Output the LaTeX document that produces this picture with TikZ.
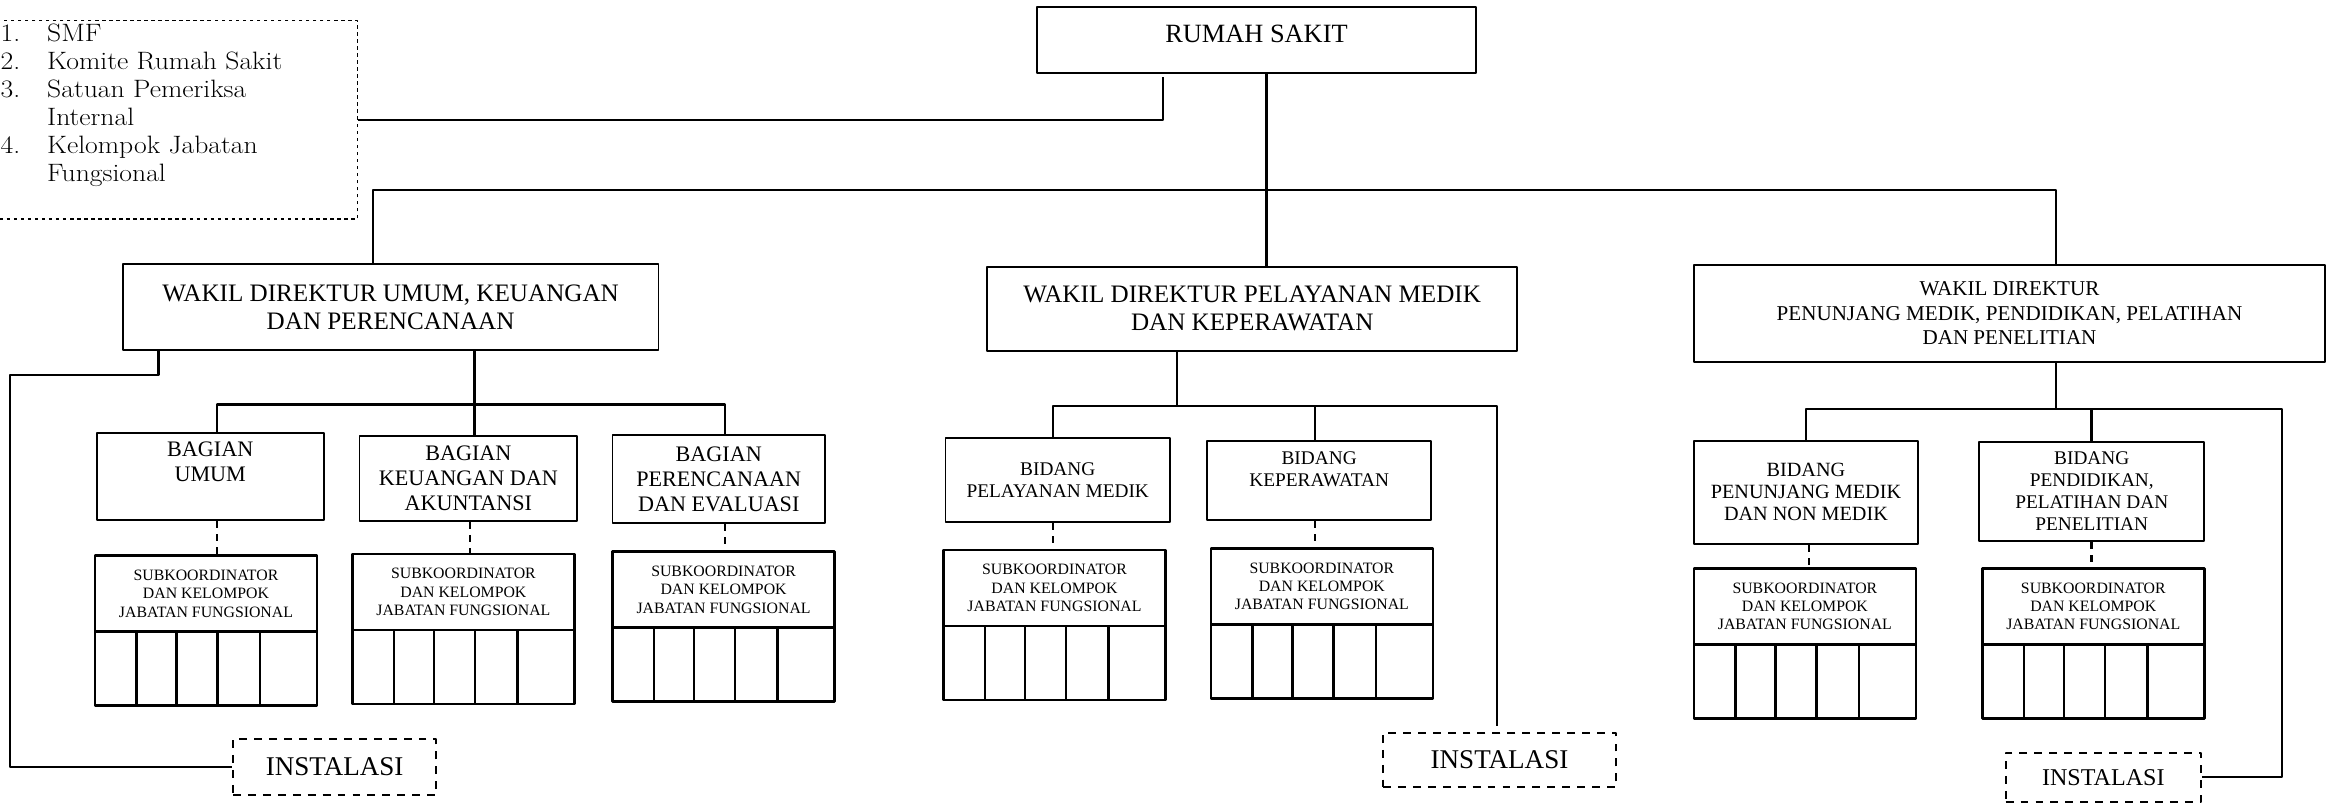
\documentclass[tikz,border=0pt]{standalone}
\usepackage{fontspec}
\newfontfamily\tnr{Liberation Serif}
\newfontfamily\legfont[FakeStretch=1.1]{Latin Modern Roman}
\usetikzlibrary{calc}

\begin{document}
\begin{tikzpicture}[line join=round,
  box/.style={draw, line width=1.1pt, align=center, inner sep=0pt},
  wdbox/.style={box, font=\tnr\fontsize{14.3}{16.1}\selectfont},
  bagbox/.style={box, font=\tnr\fontsize{12.6}{14.2}\selectfont},
  bidbox/.style={box, font=\tnr\fontsize{11}{12.5}\selectfont},
  subbox/.style={draw, line width=1.4pt, align=center, inner sep=0pt, outer sep=0pt,
    minimum width=4.44cm, minimum height=1.52cm, font=\tnr\fontsize{9}{10.5}\selectfont},
  cellbox/.style={draw, line width=1.4pt, inner sep=0pt, outer sep=0pt,
    minimum width=4.44cm, minimum height=1.48cm},
  instbox/.style={draw, dash pattern=on 4.5pt off 4pt, line width=1.1pt, inner sep=0pt,
    font=\tnr\fontsize{15.4}{17}\selectfont},
  conn/.style={line width=1.2pt},
  dashline/.style={line width=1.2pt, dash pattern=on 4pt off 3.5pt}]

  \useasboundingbox (0,0) rectangle (46.68,-16.06);

  % Top
  \node[box, minimum width=8.78cm, minimum height=1.32cm, text depth=6.8pt,
    font=\tnr\fontsize{15}{17}\selectfont] (rs) at (25.13,-0.80) {RUMAH SAKIT};
  \node[draw, dash pattern=on 2pt off 2pt, line width=0.75pt, anchor=north west,
    inner xsep=0.3cm, inner ysep=0pt, text width=6.84cm, minimum height=3.966cm,
    font=\legfont\fontsize{14.3}{16}\selectfont] (legend) at (-0.30,-0.40) {%
    \begin{tabular}{@{}p{26.5pt}@{}l@{}}
      1. & SMF\\
      2. & Komite Rumah Sakit\\
      3. & Satuan Pemeriksa\\
         & Internal\\
      4. & Kelompok Jabatan\\
         & Fungsional\\
         & \\
    \end{tabular}};

  % Wakil direktur
  \node[wdbox, minimum width=10.714cm, minimum height=1.72cm] (wd1) at (7.813,-6.14)
    {WAKIL DIREKTUR UMUM, KEUANGAN\\DAN PERENCANAAN};
  \node[wdbox, minimum width=10.608cm, minimum height=1.68cm] (wd2) at (25.044,-6.174)
    {WAKIL DIREKTUR PELAYANAN MEDIK\\DAN KEPERAWATAN};
  \node[box, minimum width=12.636cm, minimum height=1.934cm,
    font=\tnr\fontsize{12}{13.9}\selectfont] (wd3) at (40.19,-6.267)
    {WAKIL DIREKTUR\\PENUNJANG MEDIK, PENDIDIKAN, PELATIHAN\\DAN PENELITIAN};

  % Bagian / bidang
  \node[bagbox, minimum width=4.542cm, minimum height=1.734cm] (umum) at (4.205,-9.533)
    {BAGIAN\\UMUM\\[3pt]\mbox{}};
  \node[bagbox, minimum width=4.354cm, minimum height=1.694cm] (keu) at (9.367,-9.567)
    {BAGIAN\\KEUANGAN DAN\\AKUNTANSI};
  \node[bagbox, minimum width=4.25cm, minimum height=1.748cm] (ren) at (14.375,-9.58)
    {BAGIAN\\PERENCANAAN\\DAN EVALUASI};
  \node[bidbox, minimum width=4.49cm, minimum height=1.68cm] (pel) at (21.155,-9.606)
    {BIDANG\\PELAYANAN MEDIK};
  \node[bidbox, minimum width=4.486cm, minimum height=1.586cm] (kep) at (26.383,-9.607)
    {BIDANG\\KEPERAWATAN\\\mbox{}};
  \node[bidbox, minimum width=4.494cm, minimum height=2.066cm,
    font=\tnr\fontsize{11.5}{12.5}\selectfont] (pen) at (36.119,-9.847)
    {BIDANG\\PENUNJANG MEDIK\\DAN NON MEDIK};
  \node[bidbox, minimum width=4.494cm, minimum height=1.986cm] (pdk) at (41.835,-9.827)
    {BIDANG\\PENDIDIKAN,\\PELATIHAN DAN\\PENELITIAN};

  % Subkoordinator
  \foreach \n/\x/\y in {1/4.12/-11.114, 2/9.268/-11.08, 3/14.472/-11.034, 4/21.09/-11.0,
      5/26.437/-10.966, 6/36.097/-11.366, 7/41.866/-11.366} {
    \node[subbox, anchor=north] (s\n) at (\x,\y) {SUBKOORDINATOR\\DAN KELOMPOK\\JABATAN FUNGSIONAL};
    \node[cellbox, anchor=north] (c\n) at (s\n.south) {};
    \foreach \f in {0.187,0.367,0.552,0.743}
      \draw[line width=1.4pt] ($(c\n.north west)!\f!(c\n.north east)$) -- ($(c\n.south west)!\f!(c\n.south east)$);
  }

  % Instalasi
  \node[instbox, minimum width=4.066cm, minimum height=1.114cm] (inst1) at (6.693,-15.343) {INSTALASI};
  \node[instbox, minimum width=4.66cm, minimum height=1.092cm] (inst2) at (29.99,-15.20) {INSTALASI};
  \node[instbox, minimum width=3.908cm, minimum height=0.98cm,
    font=\tnr\fontsize{13.7}{15}\selectfont] (inst3) at (42.066,-15.544) {INSTALASI};

  % Coordinates
  \coordinate (lg) at (23.266,-1.534);
  \coordinate (t1) at (7.456,-3.80);
  \coordinate (t2) at (25.33,-3.80);
  \coordinate (t3) at (41.116,-3.80);
  \coordinate (k1) at (3.17,-7.50);
  \coordinate (k2) at (0.196,-7.50);
  \coordinate (g1a) at (4.34,-8.09);
  \coordinate (g1b) at (9.49,-8.09);
  \coordinate (g1c) at (14.50,-8.09);
  \coordinate (g2a) at (21.06,-8.12);
  \coordinate (g2b) at (23.536,-8.12);
  \coordinate (g2c) at (26.304,-8.12);
  \coordinate (g2d) at (29.946,-8.12);
  \coordinate (g2e) at (29.946,-14.52);
  \coordinate (g3a) at (36.124,-8.18);
  \coordinate (g3b) at (41.116,-8.18);
  \coordinate (g3c) at (41.83,-8.18);
  \coordinate (g3d) at (45.636,-8.18);

  % Connectors
  \draw[conn] (legend.east) -| (lg);
  \draw[conn] (rs.south -| t2) -- (wd2.north -| t2);
  \draw[conn] (wd1.north -| t1) -- (t1) -- (t3) -- (wd3.north -| t3);

  \draw[conn] (wd1.south -| k1) -- (k1) -- (k2) |- (inst1.west);
  \draw[conn] (wd1.south -| g1b) -- (keu.north -| g1b);
  \draw[conn] (umum.north -| g1a) -- (g1a) -- (g1c) -- (ren.north -| g1c);
  \draw[dashline] (umum.south -| g1a) -- (s1.north -| g1a);
  \draw[dashline] (keu.south -| 9.40,0) -- (s2.north -| 9.40,0);
  \draw[dashline] (ren.south -| g1c) -- (s3.north -| g1c);

  \draw[conn] (wd2.south -| g2b) -- (g2b);
  \draw[conn] (pel.north -| g2a) -- (g2a) -- (g2d) -- (g2e);
  \draw[conn] (g2c) -- (kep.north -| g2c);
  \draw[dashline] (pel.south -| g2a) -- (s4.north -| g2a);
  \draw[dashline] (kep.south -| g2c) -- (s5.north -| g2c);

  \draw[conn] (wd3.south -| g3b) -- (g3b);
  \draw[conn] (pen.north -| g3a) -- (g3a) -- (g3d) |- (inst3.east);
  \draw[conn] (g3c) -- (pdk.north -| g3c);
  \draw[dashline] (pen.south -| 36.176,0) -- (s6.north -| 36.176,0);
  \draw[dashline] (pdk.south -| g3c) -- (s7.north -| g3c);
\end{tikzpicture}
\end{document}
